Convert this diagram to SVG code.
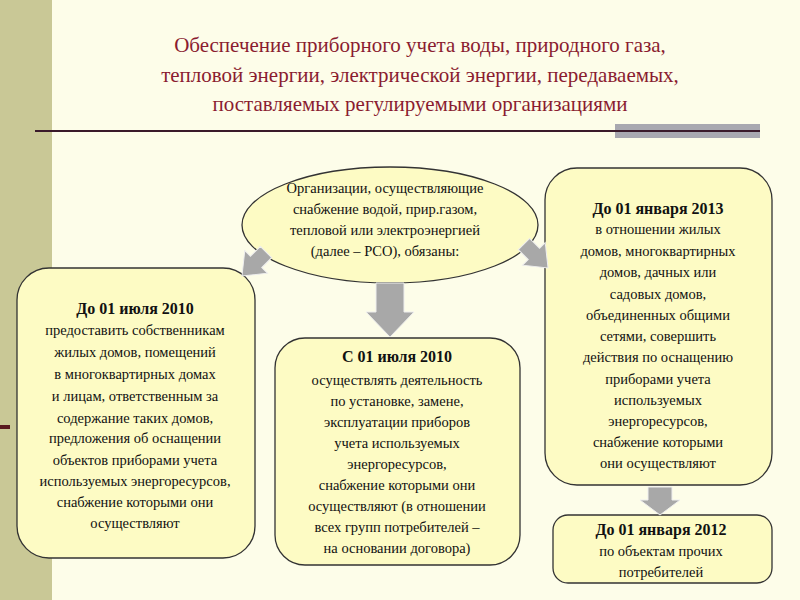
<svg xmlns="http://www.w3.org/2000/svg" width="800" height="600" viewBox="0 0 800 600">
<defs><style>
.box{fill:#fdfbc4;stroke:#333;stroke-width:1.3}
.t{font-family:"Liberation Serif",serif;font-size:14.5px;fill:#111;text-anchor:middle}
.b{font-weight:bold;font-size:16px}
.title{font-family:"Liberation Serif",serif;font-size:21px;fill:#8a1c30;text-anchor:middle}
.arr{fill:#a8a8a8;stroke:#eee;stroke-width:1}
</style></defs>
<rect width="800" height="600" fill="#fdfde9"/>
<rect x="0" y="0" width="52" height="600" fill="#c9c896"/>
<rect x="0" y="425" width="10" height="4" fill="#5a1a20"/>
<g id="title">
<text class="title" x="420" y="52">Обеспечение приборного учета воды, природного газа,</text>
<text class="title" x="420" y="82">тепловой энергии, электрической энергии, передаваемых,</text>
<text class="title" x="420" y="111">поставляемых регулируемыми организациями</text>
<rect x="615" y="124" width="145" height="14" fill="#a8a8b0"/>
<line x1="35" y1="131" x2="760" y2="131" stroke="#3a1a2a" stroke-width="2"/>
</g>
<g id="rso">
<ellipse class="box" cx="390" cy="225" rx="148" ry="58"/>
<text class="t" x="385" y="193">Организации,  осуществляющие</text>
<text class="t" x="385" y="214">снабжение  водой, прир.газом,</text>
<text class="t" x="385" y="235">тепловой или электроэнергией</text>
<text class="t" x="385" y="256">(далее – РСО), обязаны:</text>
</g>
<g id="left">
<rect class="box" x="17" y="268" width="238" height="290" rx="32"/>
<text class="t b" x="135" y="314">До 01 июля 2010</text>
<text class="t" x="135" y="335">предоставить собственникам</text>
<text class="t" x="135" y="357">жилых домов, помещений</text>
<text class="t" x="135" y="379">в многоквартирных домах</text>
<text class="t" x="135" y="401">и лицам, ответственным за</text>
<text class="t" x="135" y="423">содержание таких домов,</text>
<text class="t" x="135" y="443">предложения об оснащении</text>
<text class="t" x="135" y="465">объектов приборами учета</text>
<text class="t" x="135" y="486">используемых энергоресурсов,</text>
<text class="t" x="135" y="507">снабжение которыми они</text>
<text class="t" x="135" y="528">осуществляют</text>
</g>
<g id="middle">
<rect class="box" x="275" y="338" width="245" height="227" rx="30"/>
<text class="t b" x="397" y="362">С 01 июля 2010</text>
<text class="t" x="397" y="385">осуществлять деятельность</text>
<text class="t" x="397" y="406">по установке, замене,</text>
<text class="t" x="397" y="427">эксплуатации приборов</text>
<text class="t" x="397" y="448">учета используемых</text>
<text class="t" x="397" y="469">энергоресурсов,</text>
<text class="t" x="397" y="490">снабжение которыми они</text>
<text class="t" x="397" y="511">осуществляют (в отношении</text>
<text class="t" x="397" y="532">всех групп потребителей –</text>
<text class="t" x="397" y="553">на основании договора)</text>
</g>
<g id="right">
<rect class="box" x="545" y="168" width="227" height="317" rx="32"/>
<text class="t b" x="658" y="214">До 01 января 2013</text>
<text class="t" x="658" y="234">в отношении жилых</text>
<text class="t" x="658" y="256">домов, многоквартирных</text>
<text class="t" x="658" y="277">домов, дачных или</text>
<text class="t" x="658" y="299">садовых домов,</text>
<text class="t" x="658" y="320">объединенных общими</text>
<text class="t" x="658" y="341">сетями, совершить</text>
<text class="t" x="658" y="362">действия по оснащению</text>
<text class="t" x="658" y="384">приборами учета</text>
<text class="t" x="658" y="405">используемых</text>
<text class="t" x="658" y="426">энергоресурсов,</text>
<text class="t" x="658" y="447">снабжение которыми</text>
<text class="t" x="658" y="468">они осуществляют</text>
</g>
<g id="bottomright">
<rect class="box" x="553" y="515" width="219" height="68" rx="15"/>
<text class="t b" x="661" y="535">До 01 января 2012</text>
<text class="t" x="661" y="556">по объектам прочих</text>
<text class="t" x="661" y="577">потребителей</text>
</g>
<g id="connectors">
<polygon class="arr" transform="translate(266,252) rotate(45)" points="-8,0 8,0 8,14 16,14 0,34 -16,14 -8,14"/>
<polygon class="arr" points="376,283 404,283 404,312 414,312 390,337 366,312 376,312"/>
<polygon class="arr" transform="translate(524,244) rotate(-45)" points="-8,0 8,0 8,14 16,14 0,34 -16,14 -8,14"/>
<polygon class="arr" points="648,487 672,487 672,500 680,500 660,515 640,500 648,500"/>
</g>
</svg>
